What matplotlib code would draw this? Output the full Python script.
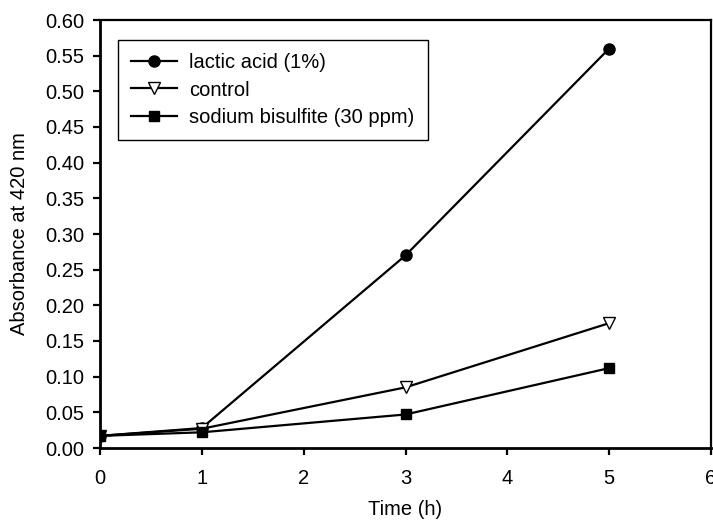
import matplotlib
matplotlib.use("Agg")
import matplotlib.pyplot as plt

plt.rcParams['font.family'] = ['Liberation Sans', 'DejaVu Sans']

time_h = [0, 1, 3, 5]
lactic_acid = [0.017, 0.028, 0.270, 0.560]
control = [0.017, 0.027, 0.085, 0.175]
bisulfite = [0.017, 0.022, 0.047, 0.112]

x_ticks = [0, 1, 2, 3, 4, 5, 6]
y_ticks = [0.00, 0.05, 0.10, 0.15, 0.20, 0.25, 0.30, 0.35, 0.40, 0.45, 0.50, 0.55, 0.60]

fs = 14.5

fig = plt.figure(figsize=(7.13, 5.23), dpi=100)
ax = fig.add_axes([100 / 713, 1 - 448 / 523, 611 / 713, 428 / 523])

lw = 1.6
ax.plot(time_h, lactic_acid, color='black', lw=lw, marker='o', ms=8.0,
        mfc='black', mec='black', label='lactic acid (1%)', zorder=3)
ax.plot(time_h, control, color='black', lw=lw, marker='v', ms=8.0,
        mfc='white', mec='black', mew=1.0, label='control', zorder=3)
ax.plot(time_h, bisulfite, color='black', lw=lw, marker='s', ms=7.2,
        mfc='black', mec='black', label='sodium bisulfite (30 ppm)', zorder=3)

ax.set_xlim(0, 6)
ax.set_ylim(0, 0.6)
ax.set_xticks(x_ticks)
ax.set_yticks(y_ticks)
ax.set_xticklabels([str(t) for t in x_ticks])
ax.set_yticklabels([f"{v:.2f}" for v in y_ticks])
ax.tick_params(direction='out', length=5, width=1.6, labelsize=fs, colors='black', pad=6)
ax.tick_params(axis='x', pad=10)

for s in ax.spines.values():
    s.set_linewidth(2.0)
    s.set_color('black')
ax.spines['top'].set_linewidth(1.6)
ax.spines['right'].set_linewidth(1.6)

ax.set_xlabel('Time (h)', fontsize=fs, labelpad=9)
ax.set_ylabel('Absorbance at 420 nm', fontsize=fs, labelpad=12)

leg = ax.legend(loc='upper left', bbox_to_anchor=(18 / 611, 1 - 20 / 428),
                borderaxespad=0, fancybox=False, edgecolor='black', fontsize=fs,
                handlelength=2.3, handletextpad=0.6, borderpad=0.65, labelspacing=0.42,
                framealpha=1)
leg.get_frame().set_linewidth(1.0)

fig.savefig('out.png', dpi=100)
